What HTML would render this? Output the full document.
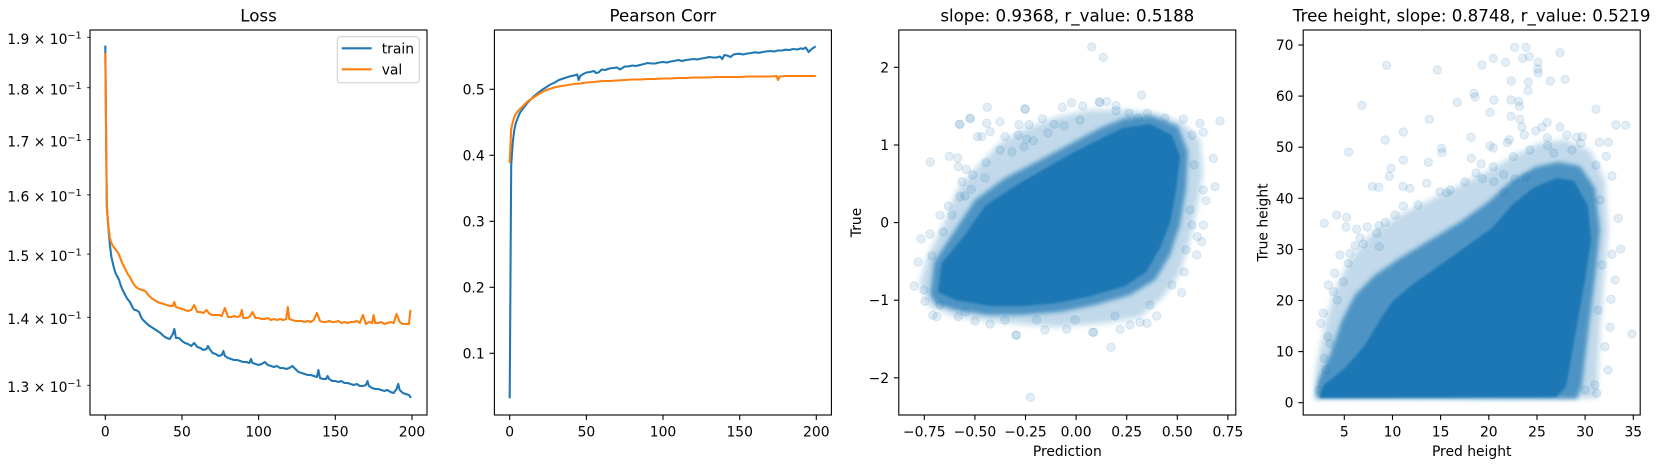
<!DOCTYPE html>
<html><head><meta charset="utf-8"><style>
html,body{margin:0;padding:0;background:#fff;}
svg{display:block;font-family:"DejaVu Sans","Liberation Sans",sans-serif;}
</style></head><body>
<svg width="1660" height="468" viewBox="0 0 1660 468" xmlns="http://www.w3.org/2000/svg">
<defs>
<clipPath id="c1"><rect x="90" y="30" width="337" height="385"/></clipPath>
<clipPath id="c2"><rect x="494.4" y="30" width="337" height="385"/></clipPath>
<clipPath id="c3"><rect x="898.8" y="30" width="337" height="385"/></clipPath>
<clipPath id="c4"><rect x="1303.2" y="30" width="337" height="385"/></clipPath>
<filter id="b4" x="-20%" y="-20%" width="140%" height="140%"><feGaussianBlur stdDeviation="3"/></filter>
<filter id="b2" x="-20%" y="-20%" width="140%" height="140%"><feGaussianBlur stdDeviation="2"/></filter>
<filter id="b1" x="-20%" y="-20%" width="140%" height="140%"><feGaussianBlur stdDeviation="1"/></filter>
</defs>
<rect width="1660" height="468" fill="#fff"/>

<!-- ============ AX1 LOSS ============ -->
<text x="258.5" y="21.7" font-size="16.67" text-anchor="middle">Loss</text>
<g clip-path="url(#c1)" fill="none" stroke-width="2.08" stroke-linejoin="round" stroke-linecap="square">
<polyline stroke="#1f77b4" points="105.3,46.7 106.8,205 108.4,228 109.9,245 111.4,257 113,264 114.5,270 116,274 117.6,277 119.1,280 120.6,285 122.2,289 123.7,292 125.2,295 126.8,298 128.3,300 129.9,302 131.4,305 132.9,308 134.5,310 136,310 137.5,311 139.1,312 140.6,316 142.1,319 145.2,322 148.3,325 151.3,327 154.4,329 157.5,331 160.5,333 163.6,336 166.7,338 169.8,339 172.8,334 174.4,329 175.9,338 179,338 182,341 185,343 188.1,344 191.2,346 194.2,343 197.3,347 200.4,348 203.4,350 206.5,349 208,346 209.6,349 212.6,353 215.7,354 218.8,356 221.8,355 223.4,351 224.9,356 228,358 231,359 234.1,360 237.2,360 240.2,361 243.3,362 246.4,362 249.4,363 251,359 252.5,363 255.6,364 258.6,365 261.7,364 264.8,362 267.8,365 270.9,366 274,367 277,366 280.1,368 283.2,368 286.2,369 289.3,368 292.4,366 295.4,369 298.5,372 301.6,373 304.6,374 307.7,375 310.8,375 313.8,376 316.9,377 318.4,370 320,378 323,379 326.1,379 327.6,376 329.2,379 332.2,381 335.3,381 338.4,382 341.4,381 344.5,383 347.6,383 350.6,384 353.7,385 356.8,384 359.8,386 362.9,386 366,385 367.5,381 369,386 372.1,388 375.2,389 378.2,389 381.3,390 384.4,391 387.4,390 390.5,392 393.6,393 396.6,389 398.2,384 399.7,390 402.8,393 405.8,394 408.9,395 410.4,397"/>
<polyline stroke="#ff7f0e" points="105.3,54 106.8,208 108.4,226 109.9,238 111.4,243 113,246 114.5,248 116,250 117.6,252 119.1,255 120.6,259 122.2,263 123.7,266 125.2,269 126.8,272 128.3,275 129.9,277 131.4,280 132.9,283 134.5,285 136,287 139.1,289 142.1,290 145.2,291 148.3,295 151.3,298 154.4,300 157.5,302 160.5,303 163.6,304 166.7,305 169.8,306 172.8,306 174.3,302 175.9,307 179,308 182,309 185,310 188.1,311 191.2,310 194.2,305 197.3,312 200.4,312 203.4,313 206.5,310 209.6,314 212.6,315 215.7,315 218.8,315 221.8,316 224.9,308 228,317 231,317 234.1,316 237.2,317 240.2,316 241.8,310 243.3,318 246.4,318 249.4,317 252.5,312 255.6,318 258.6,318 261.7,319 264.8,319 267.8,318 270.9,320 274,319 277,320 280.1,319 283.2,320 286.2,319 287.8,307 289.3,319 292.4,320 295.4,321 298.5,321 301.6,321 304.6,322 307.7,321 310.8,322 313.8,320 316.9,313 320,321 323,322 326.1,322 329.2,321 332.2,322 335.3,322 338.4,321 341.4,323 344.5,322 347.6,323 350.6,322 353.7,322 356.8,321 359.8,323 362.9,315 366,324 369,322 372.1,323 373.6,315 375.2,323 378.2,323 381.3,322 384.4,324 387.4,323 390.5,322 393.6,323 396.6,314 399.7,322 402.8,324 405.8,324 408.9,324 410.4,311"/>
</g>
<rect x="90" y="30" width="337" height="385" fill="none" stroke="#000" stroke-width="1.1"/>
<g stroke="#000" stroke-width="1.1">
<line x1="105.3" y1="415" x2="105.3" y2="419.9"/><line x1="182" y1="415" x2="182" y2="419.9"/><line x1="258.6" y1="415" x2="258.6" y2="419.9"/><line x1="335.3" y1="415" x2="335.3" y2="419.9"/><line x1="412" y1="415" x2="412" y2="419.9"/>
</g>
<g stroke="#000" stroke-width="0.85">
<line x1="87.2" y1="37.3" x2="90" y2="37.3"/><line x1="87.2" y1="87.7" x2="90" y2="87.7"/><line x1="87.2" y1="139.7" x2="90" y2="139.7"/><line x1="87.2" y1="194.9" x2="90" y2="194.9"/><line x1="87.2" y1="254.1" x2="90" y2="254.1"/><line x1="87.2" y1="317.3" x2="90" y2="317.3"/><line x1="87.2" y1="385.3" x2="90" y2="385.3"/>
</g>
<g font-size="13.89" text-anchor="middle">
<text x="105.3" y="436.6">0</text><text x="182" y="436.6">50</text><text x="258.6" y="436.6">100</text><text x="335.3" y="436.6">150</text><text x="412" y="436.6">200</text>
</g>
<g font-size="13.89" text-anchor="end">
<text x="81.7" y="44">1.9 × 10<tspan dy="-5.5" font-size="9.7">−1</tspan></text>
<text x="81.7" y="94.4">1.8 × 10<tspan dy="-5.5" font-size="9.7">−1</tspan></text>
<text x="81.7" y="146.4">1.7 × 10<tspan dy="-5.5" font-size="9.7">−1</tspan></text>
<text x="81.7" y="201.6">1.6 × 10<tspan dy="-5.5" font-size="9.7">−1</tspan></text>
<text x="81.7" y="260.8">1.5 × 10<tspan dy="-5.5" font-size="9.7">−1</tspan></text>
<text x="81.7" y="324">1.4 × 10<tspan dy="-5.5" font-size="9.7">−1</tspan></text>
<text x="81.7" y="392">1.3 × 10<tspan dy="-5.5" font-size="9.7">−1</tspan></text>
</g>
<!-- legend -->
<rect x="337.3" y="36.7" width="82" height="46" rx="2.8" fill="#fff" fill-opacity="0.8" stroke="#cccccc" stroke-width="1"/>
<line x1="341.7" y1="48.3" x2="371.7" y2="48.3" stroke="#1f77b4" stroke-width="2.08"/>
<line x1="341.7" y1="69.3" x2="371.7" y2="69.3" stroke="#ff7f0e" stroke-width="2.08"/>
<text x="381.7" y="53.3" font-size="13.89">train</text>
<text x="381.7" y="74.3" font-size="13.89">val</text>

<!-- ============ AX2 PEARSON ============ -->
<text x="662.9" y="21.7" font-size="16.67" text-anchor="middle">Pearson Corr</text>
<g clip-path="url(#c2)" fill="none" stroke-width="2.08" stroke-linejoin="round" stroke-linecap="square">
<polyline stroke="#1f77b4" points="509.7,397.3 511.2,165 512.8,142 514.3,130 515.8,123 517.4,119 518.9,115 520.4,112 522,110 523.5,108 525,106 528.1,102 531.2,99 534.2,96 537.3,93.5 540.4,91 543.4,89 546.5,87 549.6,85 552.6,83.5 555.7,82 558.8,80 561.8,79 564.9,78 568,77 571,76 574.1,75.5 577.2,74.5 578.7,80 580.2,76 583.3,74 586.4,72.5 590,72 594,71 596,73 598.6,72.5 601.7,69.5 605,70 609.4,68.5 613,68 617,67.5 620.1,69.5 624.7,66.5 628,66.5 632.4,65.5 636,66 640,65 644,64 647.7,63 651,63.5 655.4,63.5 659,62.5 663,62 667,62.5 670.7,61.5 674,61 678.4,60 682,61 686,60 690,59.5 693.7,59 697,59.5 701.4,58.5 705,58 709,57 713,57.5 716.7,57.5 720,56.5 722.3,59 724.4,55 727,55.5 730.5,57 733.6,54.5 736,54 739.7,53.7 743,54.5 747.4,53.5 751,53 755,52.3 759,52.8 762.7,52 766,51.5 770.4,51 774,51.5 778,50.5 782,50.5 785.7,49.7 789,50 793.4,49 797,49.5 801,48.4 803,49 805.6,47.5 808.7,52 811.7,49 814.8,47"/>
<polyline stroke="#ff7f0e" points="509.7,162 511.2,129 512.8,122 514.3,117 515.8,114 517.4,112 518.9,110 522,107 525,104 528.1,101 531.2,99 534.2,97 537.3,95 540.4,93 543.4,91.5 546.5,90 549.6,89 552.6,88 555.7,87 561.8,86 568,85 574.1,84 580.2,83.5 586.4,82.5 594,82 601.7,81 609,81 617,80.5 625,80 632.4,79.5 640,79.5 647.7,79 655,79 663,78.5 670,78.5 678.4,78 686,78 693.7,77.5 701,77.5 709,77.5 716,77 724.4,77 732,77 739.7,77 747,76.5 755,76.5 762,76.5 770.4,76.5 776.5,76 778,80 779.6,76.5 785.7,76 793,76 801,76 808,76 814.8,76"/>
</g>
<rect x="494.4" y="30" width="337" height="385" fill="none" stroke="#000" stroke-width="1.1"/>
<g stroke="#000" stroke-width="1.1">
<line x1="509.7" y1="415" x2="509.7" y2="419.9"/><line x1="586.4" y1="415" x2="586.4" y2="419.9"/><line x1="663" y1="415" x2="663" y2="419.9"/><line x1="739.7" y1="415" x2="739.7" y2="419.9"/><line x1="816.3" y1="415" x2="816.3" y2="419.9"/>
<line x1="489.5" y1="353.3" x2="494.4" y2="353.3"/><line x1="489.5" y1="287.3" x2="494.4" y2="287.3"/><line x1="489.5" y1="221.3" x2="494.4" y2="221.3"/><line x1="489.5" y1="155.3" x2="494.4" y2="155.3"/><line x1="489.5" y1="89.3" x2="494.4" y2="89.3"/>
</g>
<g font-size="13.89" text-anchor="middle">
<text x="509.7" y="436.6">0</text><text x="586.4" y="436.6">50</text><text x="663" y="436.6">100</text><text x="739.7" y="436.6">150</text><text x="816.3" y="436.6">200</text>
</g>
<g font-size="13.89" text-anchor="end">
<text x="484.7" y="358.3">0.1</text><text x="484.7" y="292.3">0.2</text><text x="484.7" y="226.3">0.3</text><text x="484.7" y="160.3">0.4</text><text x="484.7" y="94.3">0.5</text>
</g>

<!-- ============ AX3 SCATTER ============ -->
<text x="1067.3" y="21.7" font-size="16.67" text-anchor="middle">slope: 0.9368, r_value: 0.5188</text>
<g clip-path="url(#c3)">
<polygon fill="#1f77b4" fill-opacity="0.28" filter="url(#b4)" points="920,283 927,257 947,217 957,190 977,167 1000,143 1023,130 1057,117 1090,110 1123,110 1157,113 1183,123 1200,140 1203,173 1197,207 1190,240 1180,273 1163,297 1140,317 1107,323 1057,327 1007,323 957,317 930,307"/>
<polygon fill="#1f77b4" fill-opacity="0.7" filter="url(#b2)" points="930,295 934,262 955,230 975,200 1005,178 1040,160 1072,143 1100,128 1125,118 1152,116 1178,126 1188,152 1186,190 1180,225 1170,255 1155,280 1130,295 1095,305 1060,312 1023,315 988,315 955,310 936,304"/>
<polygon fill="#1f77b4" filter="url(#b1)" points="938,292 942,263 964,236 985,206 1015,186 1046,168 1076,151 1102,138 1123,128 1150,124 1172,135 1180,157 1176,190 1170,223 1160,248 1146,272 1125,286 1091,296 1057,303 1023,306 990,306 956,300"/>
<g fill="#1f77b4" fill-opacity="0.13" stroke="#1f77b4" stroke-opacity="0.13" stroke-width="1">
<circle cx="1091.7" cy="47" r="4.2"/><circle cx="1103.3" cy="57.3" r="4.2"/><circle cx="1141.7" cy="95" r="4.2"/><circle cx="987.3" cy="107.3" r="4.2"/><circle cx="1025.3" cy="109" r="4.2"/><circle cx="1071.7" cy="102.7" r="4.2"/><circle cx="1062.3" cy="107.3" r="4.2"/><circle cx="1082.7" cy="106" r="4.2"/><circle cx="1100" cy="102.7" r="4.2"/><circle cx="1106.7" cy="101.7" r="4.2"/><circle cx="1116" cy="105.7" r="4.2"/><circle cx="1116" cy="110.7" r="4.2"/><circle cx="959.3" cy="124.3" r="4.2"/><circle cx="970.3" cy="118.7" r="4.2"/><circle cx="986.7" cy="123.3" r="4.2"/><circle cx="1000" cy="121.7" r="4.2"/><circle cx="1019" cy="124.7" r="4.2"/><circle cx="1029" cy="124.7" r="4.2"/><circle cx="1042.3" cy="118.7" r="4.2"/><circle cx="1054.3" cy="124.3" r="4.2"/><circle cx="1220" cy="121.3" r="4.2"/><circle cx="1200" cy="123.3" r="4.2"/><circle cx="1183.3" cy="119" r="4.2"/><circle cx="1147.3" cy="113.3" r="4.2"/><circle cx="1129" cy="113.3" r="4.2"/><circle cx="930.3" cy="162" r="4.2"/><circle cx="949.3" cy="156.3" r="4.2"/><circle cx="957.7" cy="158" r="4.2"/><circle cx="958.3" cy="166.7" r="4.2"/><circle cx="966.3" cy="169.3" r="4.2"/><circle cx="977.3" cy="136.7" r="4.2"/><circle cx="981.7" cy="136.7" r="4.2"/><circle cx="990" cy="131.7" r="4.2"/><circle cx="1005" cy="136.7" r="4.2"/><circle cx="1018.3" cy="135" r="4.2"/><circle cx="1033.3" cy="140.7" r="4.2"/><circle cx="1026.7" cy="139.3" r="4.2"/><circle cx="1000" cy="150" r="4.2"/><circle cx="986" cy="162.7" r="4.2"/><circle cx="972.7" cy="175" r="4.2"/><circle cx="962" cy="181.7" r="4.2"/><circle cx="971.3" cy="189.3" r="4.2"/><circle cx="960" cy="196.7" r="4.2"/><circle cx="948.3" cy="206" r="4.2"/><circle cx="940" cy="215.3" r="4.2"/><circle cx="921" cy="239" r="4.2"/><circle cx="930" cy="234" r="4.2"/><circle cx="914.3" cy="286" r="4.2"/><circle cx="925" cy="301.3" r="4.2"/><circle cx="932.7" cy="315.3" r="4.2"/><circle cx="936.7" cy="316.7" r="4.2"/><circle cx="958.3" cy="316.7" r="4.2"/><circle cx="975" cy="321" r="4.2"/><circle cx="990" cy="324" r="4.2"/><circle cx="1016" cy="335" r="4.2"/><circle cx="1036.7" cy="320" r="4.2"/><circle cx="1066.7" cy="329.3" r="4.2"/><circle cx="1092.7" cy="332.3" r="4.2"/><circle cx="1120" cy="329.3" r="4.2"/><circle cx="1140" cy="322.3" r="4.2"/><circle cx="1156.7" cy="316" r="4.2"/><circle cx="1181.7" cy="292.7" r="4.2"/><circle cx="1184.3" cy="272" r="4.2"/><circle cx="1196.7" cy="255" r="4.2"/><circle cx="1203.3" cy="225" r="4.2"/><circle cx="1206" cy="200.7" r="4.2"/><circle cx="1215" cy="186.7" r="4.2"/><circle cx="1213.3" cy="158.3" r="4.2"/><circle cx="1203.3" cy="132.3" r="4.2"/><circle cx="1203.3" cy="190" r="4.2"/><circle cx="1197.3" cy="236.7" r="4.2"/><circle cx="1201.7" cy="241.7" r="4.2"/><circle cx="1016.3" cy="335.3" r="4.2"/><circle cx="1111" cy="347.3" r="4.2"/><circle cx="1030.3" cy="397.3" r="4.2"/><circle cx="1147" cy="323.3" r="4.2"/><circle cx="1093.7" cy="332.3" r="4.2"/><circle cx="960" cy="124.3" r="4.2"/><circle cx="970" cy="118.3" r="4.2"/><circle cx="1025" cy="109" r="4.2"/><circle cx="1099" cy="101.7" r="4.2"/><circle cx="944" cy="270" r="4.2"/><circle cx="918" cy="262" r="4.2"/><circle cx="1190" cy="210" r="4.2"/><circle cx="1045" cy="330" r="4.2"/><circle cx="1130" cy="325" r="4.2"/>
<circle cx="1012" cy="152" r="4.2"/><circle cx="1024" cy="147" r="4.2"/><circle cx="1048" cy="133" r="4.2"/><circle cx="1064" cy="126" r="4.2"/><circle cx="1080" cy="120" r="4.2"/><circle cx="1138" cy="118" r="4.2"/><circle cx="1165" cy="118" r="4.2"/><circle cx="1192" cy="135" r="4.2"/><circle cx="1194" cy="165" r="4.2"/><circle cx="1192" cy="225" r="4.2"/><circle cx="1186" cy="250" r="4.2"/><circle cx="1172" cy="285" r="4.2"/><circle cx="1150" cy="305" r="4.2"/><circle cx="1115" cy="316" r="4.2"/><circle cx="1075" cy="320" r="4.2"/><circle cx="1005" cy="320" r="4.2"/><circle cx="965" cy="312" r="4.2"/><circle cx="940" cy="305" r="4.2"/><circle cx="924" cy="290" r="4.2"/><circle cx="932" cy="256" r="4.2"/><circle cx="943" cy="232" r="4.2"/><circle cx="952" cy="215" r="4.2"/><circle cx="965" cy="196" r="4.2"/><circle cx="985" cy="178" r="4.2"/>
</g>
</g>
<rect x="898.8" y="30" width="337" height="385" fill="none" stroke="#000" stroke-width="1.1"/>
<g stroke="#000" stroke-width="1.1">
<line x1="924.3" y1="415" x2="924.3" y2="419.9"/><line x1="974.9" y1="415" x2="974.9" y2="419.9"/><line x1="1025.5" y1="415" x2="1025.5" y2="419.9"/><line x1="1076.1" y1="415" x2="1076.1" y2="419.9"/><line x1="1126.7" y1="415" x2="1126.7" y2="419.9"/><line x1="1177.3" y1="415" x2="1177.3" y2="419.9"/><line x1="1227.9" y1="415" x2="1227.9" y2="419.9"/>
<line x1="893.9" y1="67.3" x2="898.8" y2="67.3"/><line x1="893.9" y1="145" x2="898.8" y2="145"/><line x1="893.9" y1="222.6" x2="898.8" y2="222.6"/><line x1="893.9" y1="300.2" x2="898.8" y2="300.2"/><line x1="893.9" y1="377.8" x2="898.8" y2="377.8"/>
</g>
<g font-size="13.89" text-anchor="middle">
<text x="924.3" y="436.6">−0.75</text><text x="974.9" y="436.6">−0.50</text><text x="1025.5" y="436.6">−0.25</text><text x="1076.1" y="436.6">0.00</text><text x="1126.7" y="436.6">0.25</text><text x="1177.3" y="436.6">0.50</text><text x="1227.9" y="436.6">0.75</text>
</g>
<g font-size="13.89" text-anchor="end">
<text x="889.1" y="72.3">2</text><text x="889.1" y="150">1</text><text x="889.1" y="227.6">0</text><text x="889.1" y="305.2">−1</text><text x="889.1" y="382.8">−2</text>
</g>
<text x="1067.3" y="456" font-size="13.89" text-anchor="middle">Prediction</text>
<text transform="translate(861,222.5) rotate(-90)" font-size="13.89" text-anchor="middle">True</text>

<!-- ============ AX4 SCATTER ============ -->
<text x="1471.7" y="21.7" font-size="16.67" text-anchor="middle">Tree height, slope: 0.8748, r_value: 0.5219</text>
<g clip-path="url(#c4)">
<polygon fill="#1f77b4" fill-opacity="0.28" filter="url(#b4)" points="1314,399 1316,370 1326,320 1335,290 1350,260 1370,235 1400,215 1430,200 1460,185 1490,170 1515,155 1540,143 1565,140 1590,150 1605,180 1608,230 1604,280 1600,330 1598,370 1597,398"/>
<polygon fill="#1f77b4" fill-opacity="0.7" filter="url(#b2)" points="1316,398 1318,380 1330,355 1342,320 1355,295 1375,275 1400,258 1430,240 1460,222 1488,202 1510,182 1535,167 1558,162 1580,166 1595,188 1600,230 1596,270 1591,310 1586,350 1582,385 1577,399"/>
<polygon fill="#1f77b4" filter="url(#b1)" points="1320,396 1324,385 1345,368 1365,345 1380,320 1392,302 1412,285 1440,265 1467,246 1492,228 1512,205 1533,188 1557,178 1574,181 1588,206 1591,240 1585,280 1579,313 1572,353 1566,387 1556,397 1320,398"/>
<g fill="#1f77b4" fill-opacity="0.13" stroke="#1f77b4" stroke-opacity="0.13" stroke-width="1">
<circle cx="1386.7" cy="65.3" r="4.2"/><circle cx="1437.3" cy="70" r="4.2"/><circle cx="1362" cy="105.3" r="4.2"/><circle cx="1514.7" cy="47.3" r="4.2"/><circle cx="1526" cy="47.3" r="4.2"/><circle cx="1522.7" cy="58.3" r="4.2"/><circle cx="1529.3" cy="56.7" r="4.2"/><circle cx="1560" cy="52.7" r="4.2"/><circle cx="1493.3" cy="58.3" r="4.2"/><circle cx="1505.7" cy="62.3" r="4.2"/><circle cx="1482" cy="65" r="4.2"/><circle cx="1538" cy="62.3" r="4.2"/><circle cx="1537.7" cy="69" r="4.2"/><circle cx="1538.3" cy="73" r="4.2"/><circle cx="1550.3" cy="81" r="4.2"/><circle cx="1565" cy="79.3" r="4.2"/><circle cx="1511.3" cy="81" r="4.2"/><circle cx="1528.3" cy="82" r="4.2"/><circle cx="1528" cy="90.7" r="4.2"/><circle cx="1474" cy="93.3" r="4.2"/><circle cx="1475" cy="97" r="4.2"/><circle cx="1494" cy="100" r="4.2"/><circle cx="1457.3" cy="102.3" r="4.2"/><circle cx="1511" cy="100" r="4.2"/><circle cx="1518.7" cy="101.3" r="4.2"/><circle cx="1519.3" cy="106.3" r="4.2"/><circle cx="1490" cy="112.3" r="4.2"/><circle cx="1596" cy="109.3" r="4.2"/><circle cx="1511" cy="116.3" r="4.2"/><circle cx="1520" cy="119.3" r="4.2"/><circle cx="1522" cy="127" r="4.2"/><circle cx="1535.7" cy="131" r="4.2"/><circle cx="1542" cy="127" r="4.2"/><circle cx="1547.3" cy="122.3" r="4.2"/><circle cx="1560" cy="127" r="4.2"/><circle cx="1524.3" cy="135" r="4.2"/><circle cx="1567" cy="135" r="4.2"/><circle cx="1616" cy="125" r="4.2"/><circle cx="1429.3" cy="119.3" r="4.2"/><circle cx="1403.3" cy="132" r="4.2"/><circle cx="1385.3" cy="140" r="4.2"/><circle cx="1471" cy="137.3" r="4.2"/><circle cx="1509.3" cy="139.7" r="4.2"/><circle cx="1547.3" cy="137.7" r="4.2"/><circle cx="1576.7" cy="137.3" r="4.2"/><circle cx="1582.3" cy="136.7" r="4.2"/><circle cx="1580.7" cy="143.3" r="4.2"/><circle cx="1599.3" cy="142.3" r="4.2"/><circle cx="1441.7" cy="148.3" r="4.2"/><circle cx="1442" cy="152.7" r="4.2"/><circle cx="1490" cy="145.7" r="4.2"/><circle cx="1493.3" cy="148" r="4.2"/><circle cx="1507.3" cy="142.7" r="4.2"/><circle cx="1547.7" cy="145.7" r="4.2"/><circle cx="1553.7" cy="153" r="4.2"/><circle cx="1348.7" cy="152" r="4.2"/><circle cx="1403.3" cy="160" r="4.2"/><circle cx="1428.3" cy="162.3" r="4.2"/><circle cx="1391" cy="168.3" r="4.2"/><circle cx="1389.3" cy="176.3" r="4.2"/><circle cx="1372.3" cy="186.3" r="4.2"/><circle cx="1378.7" cy="187.3" r="4.2"/><circle cx="1403" cy="186.3" r="4.2"/><circle cx="1410" cy="188.3" r="4.2"/><circle cx="1426.7" cy="183.3" r="4.2"/><circle cx="1440" cy="191.7" r="4.2"/><circle cx="1446.7" cy="192.7" r="4.2"/><circle cx="1403.3" cy="206" r="4.2"/><circle cx="1336.7" cy="215" r="4.2"/><circle cx="1346.7" cy="217.3" r="4.2"/><circle cx="1324.3" cy="223.3" r="4.2"/><circle cx="1346" cy="227" r="4.2"/><circle cx="1356.7" cy="229.3" r="4.2"/><circle cx="1367.3" cy="227" r="4.2"/><circle cx="1379" cy="225.7" r="4.2"/><circle cx="1385.3" cy="222.3" r="4.2"/><circle cx="1471.3" cy="158.3" r="4.2"/><circle cx="1481" cy="164" r="4.2"/><circle cx="1493.3" cy="166.7" r="4.2"/><circle cx="1476" cy="173" r="4.2"/><circle cx="1482.3" cy="178.7" r="4.2"/><circle cx="1503.7" cy="174.7" r="4.2"/><circle cx="1515" cy="179" r="4.2"/><circle cx="1494" cy="181.7" r="4.2"/><circle cx="1525.7" cy="177.3" r="4.2"/><circle cx="1504" cy="192.7" r="4.2"/><circle cx="1513.3" cy="156.7" r="4.2"/><circle cx="1625.7" cy="125.3" r="4.2"/><circle cx="1608.3" cy="142.3" r="4.2"/><circle cx="1606.3" cy="156.3" r="4.2"/><circle cx="1596" cy="165.3" r="4.2"/><circle cx="1612" cy="176" r="4.2"/><circle cx="1618.3" cy="218.3" r="4.2"/><circle cx="1620.7" cy="249" r="4.2"/><circle cx="1612" cy="254.3" r="4.2"/><circle cx="1611" cy="299.3" r="4.2"/><circle cx="1610" cy="327.3" r="4.2"/><circle cx="1605" cy="346.7" r="4.2"/><circle cx="1595" cy="385" r="4.2"/><circle cx="1596.7" cy="393.3" r="4.2"/><circle cx="1585" cy="390" r="4.2"/><circle cx="1320.7" cy="323.3" r="4.2"/><circle cx="1323.3" cy="313.3" r="4.2"/><circle cx="1328.3" cy="285" r="4.2"/><circle cx="1334.7" cy="273.3" r="4.2"/><circle cx="1328" cy="336.7" r="4.2"/><circle cx="1330" cy="343.3" r="4.2"/><circle cx="1324" cy="358.3" r="4.2"/><circle cx="1319" cy="390" r="4.2"/><circle cx="1337.3" cy="300" r="4.2"/><circle cx="1343.3" cy="281.7" r="4.2"/><circle cx="1350" cy="253.3" r="4.2"/><circle cx="1355" cy="245.7" r="4.2"/><circle cx="1363.3" cy="244" r="4.2"/><circle cx="1348.3" cy="263.3" r="4.2"/><circle cx="1333.3" cy="291.7" r="4.2"/><circle cx="1376.7" cy="233.3" r="4.2"/><circle cx="1379.3" cy="246.7" r="4.2"/><circle cx="1632" cy="334" r="4.2"/><circle cx="1615" cy="280" r="4.2"/><circle cx="1608" cy="370" r="4.2"/>
<circle cx="1395" cy="215" r="4.2"/><circle cx="1418" cy="205" r="4.2"/><circle cx="1450" cy="190" r="4.2"/><circle cx="1465" cy="182" r="4.2"/><circle cx="1530" cy="150" r="4.2"/><circle cx="1572" cy="150" r="4.2"/><circle cx="1600" cy="200" r="4.2"/><circle cx="1602" cy="265" r="4.2"/><circle cx="1598" cy="310" r="4.2"/><circle cx="1340" cy="255" r="4.2"/><circle cx="1360" cy="238" r="4.2"/><circle cx="1326" cy="370" r="4.2"/>
</g>
</g>
<rect x="1303.2" y="30" width="337" height="385" fill="none" stroke="#000" stroke-width="1.1"/>
<g stroke="#000" stroke-width="1.1">
<line x1="1344.3" y1="415" x2="1344.3" y2="419.9"/><line x1="1392.5" y1="415" x2="1392.5" y2="419.9"/><line x1="1440.6" y1="415" x2="1440.6" y2="419.9"/><line x1="1488.8" y1="415" x2="1488.8" y2="419.9"/><line x1="1537" y1="415" x2="1537" y2="419.9"/><line x1="1585.1" y1="415" x2="1585.1" y2="419.9"/><line x1="1633.3" y1="415" x2="1633.3" y2="419.9"/>
<line x1="1298.3" y1="402.7" x2="1303.2" y2="402.7"/><line x1="1298.3" y1="351.6" x2="1303.2" y2="351.6"/><line x1="1298.3" y1="300.5" x2="1303.2" y2="300.5"/><line x1="1298.3" y1="249.4" x2="1303.2" y2="249.4"/><line x1="1298.3" y1="198.3" x2="1303.2" y2="198.3"/><line x1="1298.3" y1="147.2" x2="1303.2" y2="147.2"/><line x1="1298.3" y1="96.1" x2="1303.2" y2="96.1"/><line x1="1298.3" y1="45" x2="1303.2" y2="45"/>
</g>
<g font-size="13.89" text-anchor="middle">
<text x="1344.3" y="436.6">5</text><text x="1392.5" y="436.6">10</text><text x="1440.6" y="436.6">15</text><text x="1488.8" y="436.6">20</text><text x="1537" y="436.6">25</text><text x="1585.1" y="436.6">30</text><text x="1633.3" y="436.6">35</text>
</g>
<g font-size="13.89" text-anchor="end">
<text x="1293.5" y="407.7">0</text><text x="1293.5" y="356.6">10</text><text x="1293.5" y="305.5">20</text><text x="1293.5" y="254.4">30</text><text x="1293.5" y="203.3">40</text><text x="1293.5" y="152.2">50</text><text x="1293.5" y="101.1">60</text><text x="1293.5" y="50">70</text>
</g>
<text x="1471.7" y="456" font-size="13.89" text-anchor="middle">Pred height</text>
<text transform="translate(1267.3,222.5) rotate(-90)" font-size="13.89" text-anchor="middle">True height</text>
</svg>
</body></html>
